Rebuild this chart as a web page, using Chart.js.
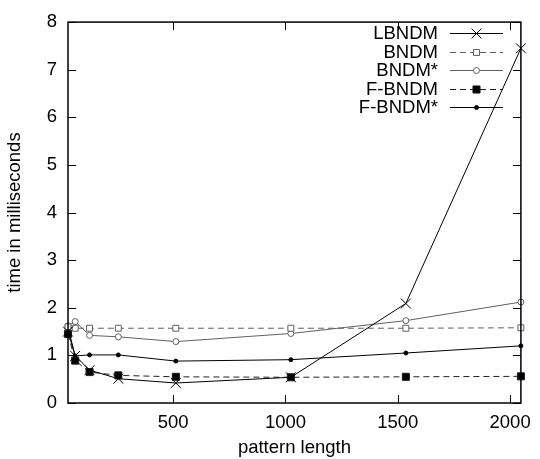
<!DOCTYPE html>
<html>
<head>
<meta charset="utf-8">
<script src="https://cdn.jsdelivr.net/npm/chart.js@4/dist/chart.umd.min.js"></script>
<style>
html,body{margin:0;padding:0;background:#fff;}
#wrap{width:540px;height:459px;}
</style>
</head>
<body>
<div id="wrap"><canvas id="c" width="540" height="459"></canvas></div>
<script>
const patternLengths = [32, 64, 128, 256, 512, 1024, 1536, 2048];
const seriesNames = ["LBNDM", "BNDM", "BNDM*", "F-BNDM", "F-BNDM*"];
const lbndm   = [1.50, 0.99, 0.69, 0.51, 0.42, 0.54, 2.09, 7.45];
const bndm    = [1.60, 1.57, 1.57, 1.57, 1.57, 1.57, 1.57, 1.58];
const bndmStar= [1.62, 1.71, 1.42, 1.39, 1.29, 1.46, 1.73, 2.12];
const fbndm   = [1.45, 0.89, 0.65, 0.58, 0.55, 0.54, 0.55, 0.56];
const fbndmStar=[1.58, 0.99, 1.01, 1.01, 0.88, 0.91, 1.05, 1.20];
const xTickValues = [500, 1000, 1500, 2000];
const yTickValues = [0, 1, 2, 3, 4, 5, 6, 7, 8];

const FONT = "'Liberation Sans', Arial, sans-serif";
const FS = 18.5;
const styles = [
  {color:'#000000', dash:[], pointStyle:'crossRot', radius:7, fill:'#000000'},
  {color:'#606060', dash:[6,4], pointStyle:'rect', radius:4.2, fill:'#ffffff'},
  {color:'#606060', dash:[], pointStyle:'circle', radius:3, fill:'#ffffff'},
  {color:'#202020', dash:[6,4], pointStyle:'rect', radius:5, fill:'#000000'},
  {color:'#000000', dash:[], pointStyle:'circle', radius:2, fill:'#000000'}
];
const values = [lbndm, bndm, bndmStar, fbndm, fbndmStar];

const datasets = seriesNames.map((name, i) => ({
  label: name,
  data: patternLengths.map((x, j) => ({x: x, y: values[i][j]})),
  borderColor: styles[i].color,
  borderWidth: 1,
  borderDash: styles[i].dash,
  pointStyle: styles[i].pointStyle,
  pointRadius: styles[i].radius,
  pointBackgroundColor: styles[i].fill,
  pointBorderColor: styles[i].color,
  pointBorderWidth: 1,
  tension: 0,
  fill: false,
  clip: false
}));

const framePlugin = {
  id: 'frame',
  afterDraw(chart) {
    const ctx = chart.ctx;
    const a = chart.chartArea;
    const xs = chart.scales.x, ys = chart.scales.y;
    ctx.save();
    ctx.strokeStyle = '#000';
    ctx.lineWidth = 1.5;
    ctx.setLineDash([]);
    ctx.strokeRect(a.left, a.top, a.right - a.left, a.bottom - a.top);
    ctx.lineWidth = 1;
    const tl = 8;
    ctx.beginPath();
    xTickValues.forEach(v => {
      const px = Math.round(xs.getPixelForValue(v)) + 0.5;
      ctx.moveTo(px, a.bottom); ctx.lineTo(px, a.bottom - tl);
      ctx.moveTo(px, a.top); ctx.lineTo(px, a.top + tl);
    });
    yTickValues.forEach(v => {
      const py = Math.round(ys.getPixelForValue(v)) + 0.5;
      ctx.moveTo(a.left, py); ctx.lineTo(a.left + tl, py);
      ctx.moveTo(a.right, py); ctx.lineTo(a.right - tl, py);
    });
    ctx.stroke();

    // legend
    ctx.font = FS + "px " + FONT;
    ctx.textAlign = 'right';
    ctx.textBaseline = 'middle';
    const textRight = 438, lineL = 450, lineR = 503, rowY0 = 33, rowH = 18.5;
    seriesNames.forEach((name, i) => {
      const y = rowY0 + i * rowH;
      ctx.fillStyle = '#000';
      ctx.fillText(name, textRight, y + 1);
      ctx.strokeStyle = styles[i].color;
      ctx.lineWidth = 1;
      ctx.setLineDash(styles[i].dash);
      ctx.beginPath();
      ctx.moveTo(lineL, Math.round(y) + 0.5);
      ctx.lineTo(lineR, Math.round(y) + 0.5);
      ctx.stroke();
      ctx.setLineDash([]);
      ctx.fillStyle = styles[i].fill;
      ctx.strokeStyle = styles[i].color;
      Chart.helpers.drawPoint(ctx, {pointStyle: styles[i].pointStyle, radius: styles[i].radius, rotation: 0, borderWidth: 1}, (lineL + lineR) / 2, Math.round(y) + 0.5);
    });
    ctx.restore();
  }
};

new Chart(document.getElementById('c'), {
  type: 'line',
  data: {datasets: datasets},
  options: {
    responsive: false,
    devicePixelRatio: 1,
    animation: false,
    layout: {padding: {top: 14, right: 13, left: 0, bottom: 0}},
    plugins: {legend: {display: false}, tooltip: {enabled: false}},
    scales: {
      x: {
        type: 'linear',
        min: 32, max: 2048,
        grid: {display: false, drawTicks: false, tickLength: 0},
        border: {display: false},
        afterBuildTicks: (s) => { s.ticks = xTickValues.map(v => ({value: v})); },
        afterFit: (s) => { s.height = 56; },
        ticks: {color: '#000', font: {size: FS, family: FONT}, padding: 9, maxRotation: 0, autoSkip: false,
                callback: (v) => String(v)},
        title: {display: true, text: 'pattern length', color: '#000', font: {size: FS, family: FONT}, padding: {top: 0, bottom: 0}}
      },
      y: {
        type: 'linear',
        min: 0, max: 8,
        grid: {display: false, drawTicks: false, tickLength: 0},
        border: {display: false},
        afterBuildTicks: (s) => { s.ticks = yTickValues.map(v => ({value: v})); },
        afterFit: (s) => { s.width = 68; },
        ticks: {color: '#000', font: {size: FS, family: FONT}, padding: 11, callback: (v) => String(v)},
        title: {display: true, text: 'time in milliseconds', color: '#000', font: {size: FS, family: FONT}, padding: {top: 4, bottom: 0}}
      }
    }
  },
  plugins: [framePlugin]
});
</script>
</body>
</html>
